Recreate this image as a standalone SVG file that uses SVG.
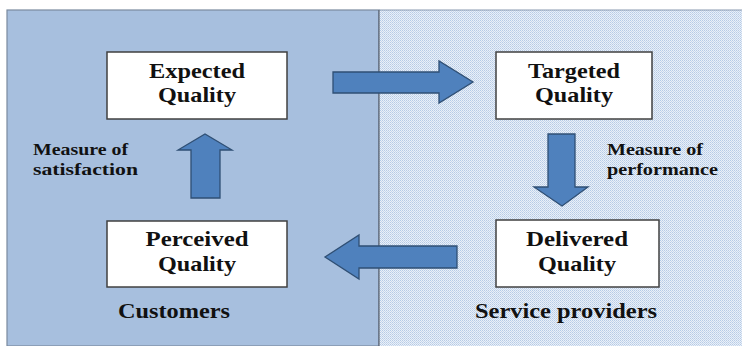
<svg xmlns="http://www.w3.org/2000/svg" width="742" height="346" viewBox="0 0 742 346">
<defs>
<pattern id="dots" width="2" height="2" patternUnits="userSpaceOnUse">
<rect width="2" height="2" fill="#eaf0f8"/>
<rect x="0" y="0" width="1" height="1" fill="#b6cbe6"/>
<rect x="1" y="1" width="1" height="1" fill="#c6d7ed"/>
</pattern>
</defs>
<style>
.box{fill:#ffffff;stroke:#404040;stroke-width:1.5}
.bt{font-family:"Liberation Serif",serif;font-weight:bold;font-size:22px;fill:#111;text-anchor:middle}
.lbl{font-family:"Liberation Serif",serif;font-weight:bold;font-size:16px;fill:#111}
.grp{font-family:"Liberation Serif",serif;font-weight:bold;font-size:21px;fill:#111}
.arr{fill:#4f81bd;stroke:#2f4f74;stroke-width:1.3;stroke-linejoin:miter}
</style>
<rect x="0" y="0" width="742" height="346" fill="#ffffff"/>
<rect id="panel-customers" x="7" y="10" width="372" height="336" fill="#a7bfde" stroke="#7a8a9e" stroke-width="1.2"/>
<rect id="panel-providers" x="379" y="10" width="363" height="336" fill="url(#dots)"/>
<line x1="379" y1="10" x2="742" y2="10" stroke="#8a9ab0" stroke-width="1.2"/>
<line x1="379" y1="10" x2="379" y2="346" stroke="#55606e" stroke-width="1.2"/>

<g id="connectors">
<polygon class="arr" points="333,72 439,72 439,61 473,82 439,103 439,93 333,93"/>
<polygon class="arr" points="548,134 575,134 575,187 588,187 562,206 534,187 548,187"/>
<polygon class="arr" points="457,246 359,246 359,235 325,257 359,279 359,268 457,268"/>
<polygon class="arr" points="191,198 220,198 220,150 232,150 205,134 178,150 191,150"/>
</g>

<g id="node-expected">
<rect class="box" x="107" y="52" width="180" height="67"/>
<text class="bt" x="197" y="78" textLength="96" lengthAdjust="spacingAndGlyphs">Expected</text>
<text class="bt" x="197" y="102" textLength="78" lengthAdjust="spacingAndGlyphs">Quality</text>
</g>
<g id="node-targeted">
<rect class="box" x="496" y="52" width="156" height="67"/>
<text class="bt" x="574" y="78" textLength="92" lengthAdjust="spacingAndGlyphs">Targeted</text>
<text class="bt" x="574" y="102" textLength="78" lengthAdjust="spacingAndGlyphs">Quality</text>
</g>
<g id="node-perceived">
<rect class="box" x="107" y="221" width="180" height="66"/>
<text class="bt" x="197" y="246" textLength="103" lengthAdjust="spacingAndGlyphs">Perceived</text>
<text class="bt" x="197" y="271" textLength="78" lengthAdjust="spacingAndGlyphs">Quality</text>
</g>
<g id="node-delivered">
<rect class="box" x="496" y="220" width="163" height="67"/>
<text class="bt" x="577" y="246" textLength="102" lengthAdjust="spacingAndGlyphs">Delivered</text>
<text class="bt" x="577" y="271" textLength="78" lengthAdjust="spacingAndGlyphs">Quality</text>
</g>

<g id="labels">
<text class="lbl" x="33" y="155" textLength="95" lengthAdjust="spacingAndGlyphs">Measure of</text>
<text class="lbl" x="33" y="175" textLength="105" lengthAdjust="spacingAndGlyphs">satisfaction</text>
<text class="lbl" x="607" y="155" textLength="96" lengthAdjust="spacingAndGlyphs">Measure of</text>
<text class="lbl" x="607" y="175" textLength="111" lengthAdjust="spacingAndGlyphs">performance</text>
<text class="grp" x="118" y="318" textLength="112" lengthAdjust="spacingAndGlyphs">Customers</text>
<text class="grp" x="475" y="318" textLength="182" lengthAdjust="spacingAndGlyphs">Service providers</text>
</g>
</svg>
